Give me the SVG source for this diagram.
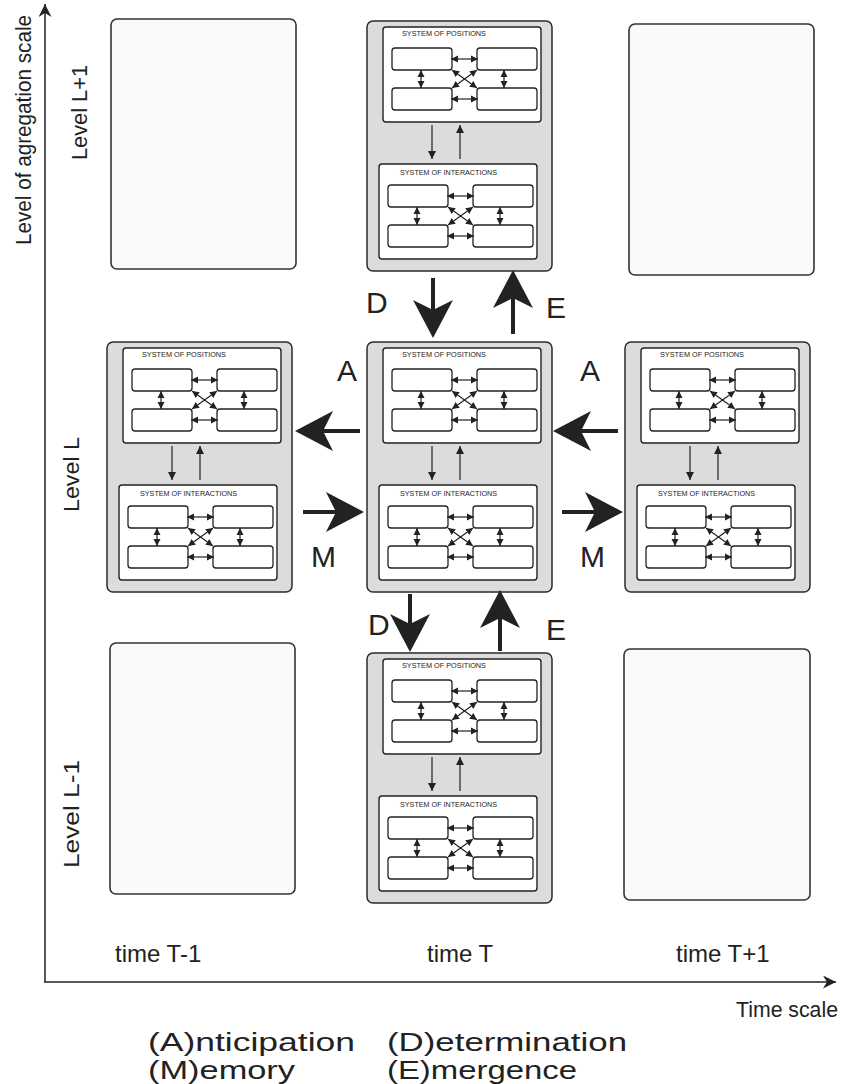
<svg xmlns="http://www.w3.org/2000/svg" xmlns:xlink="http://www.w3.org/1999/xlink" width="842" height="1084" viewBox="0 0 842 1084">
<style>
.outer{fill:#dcdcdc;stroke:#2a2a2a;stroke-width:1.5}
.empty{fill:#fafafa;stroke:#333;stroke-width:1.6}
.sub{fill:#fff;stroke:#222;stroke-width:1.4}
.cell{fill:#fff;stroke:#222;stroke-width:1.3}
.small{font-family:"Liberation Sans",Arial,sans-serif;font-size:7.4px;fill:#222}
.ln{stroke:#222;stroke-width:1.2;fill:none}
.big{stroke:#222;stroke-width:4;fill:none}
.bighead{fill:#222}
.lab{font-family:"Liberation Sans",Arial,sans-serif;font-size:30px;fill:#222}
.leg{font-family:"Liberation Sans",Arial,sans-serif;font-size:26px;fill:#222}
.lvl{font-family:"Liberation Sans",Arial,sans-serif;font-size:22px;fill:#222}
.tm{font-family:"Liberation Sans",Arial,sans-serif;font-size:24px;fill:#222}
.axis{stroke:#222;stroke-width:1.5;fill:none}
</style>
<defs>
<marker id="ah" viewBox="0 0 10 10" refX="10" refY="5" markerUnits="userSpaceOnUse" markerWidth="7" markerHeight="9" orient="auto-start-reverse"><path d="M0,0 L10,5 L0,10 Z" fill="#222"/></marker>
<marker id="ah2" viewBox="0 0 10 10" refX="10" refY="5" markerUnits="userSpaceOnUse" markerWidth="10" markerHeight="8" orient="auto"><path d="M0,0 L10,5 L0,10 Z" fill="#222"/></marker>
<marker id="axh" viewBox="0 0 10 10" refX="10" refY="5" markerUnits="userSpaceOnUse" markerWidth="13" markerHeight="13" orient="auto"><path d="M0,0 L10,5 L0,10 L3,5 Z" fill="#222"/></marker>
<path id="bh" d="M0,0 L-38,-20 L-28,0 L-38,20 Z"/>
<g id="net">
<rect class="cell" x="9" y="21" width="60" height="22" rx="3"/>
<rect class="cell" x="94" y="21" width="60" height="22" rx="3"/>
<rect class="cell" x="9" y="61" width="60" height="22" rx="3"/>
<rect class="cell" x="94" y="61" width="60" height="22" rx="3"/>
<line class="ln" x1="38" y1="43" x2="38" y2="61" marker-start="url(#ah)" marker-end="url(#ah)"/>
<line class="ln" x1="121" y1="43" x2="121" y2="61" marker-start="url(#ah)" marker-end="url(#ah)"/>
<line class="ln" x1="68" y1="32" x2="95" y2="32" marker-start="url(#ah)" marker-end="url(#ah)"/>
<line class="ln" x1="68" y1="72" x2="95" y2="72" marker-start="url(#ah)" marker-end="url(#ah)"/>
<line class="ln" x1="69" y1="43" x2="94" y2="61" marker-start="url(#ah)" marker-end="url(#ah)"/>
<line class="ln" x1="94" y1="43" x2="69" y2="61" marker-start="url(#ah)" marker-end="url(#ah)"/>
</g>
<g id="mod">
<rect class="outer" x="0" y="0" width="185" height="250" rx="6"/>
<rect class="sub" x="16" y="6" width="158" height="95" rx="3"/>
<use xlink:href="#net" href="#net" x="16" y="6"/>
<line class="ln" x1="65" y1="104" x2="65" y2="138" marker-end="url(#ah2)"/>
<line class="ln" x1="93" y1="138" x2="93" y2="104" marker-end="url(#ah2)"/>
<rect class="sub" x="12" y="143" width="158" height="95" rx="3"/>
<use xlink:href="#net" href="#net" x="12" y="143"/>
</g>
</defs>

<g id="axes">
<line class="axis" x1="45" y1="982" x2="45" y2="4" marker-end="url(#axh)"/>
<line class="axis" x1="44" y1="982" x2="836" y2="982" marker-end="url(#axh)"/>
<text class="lvl" transform="translate(31,245) rotate(-90)" textLength="230" lengthAdjust="spacingAndGlyphs">Level of agregation scale</text>
<text class="lvl" x="736" y="1017" font-size="21" textLength="102" lengthAdjust="spacingAndGlyphs">Time scale</text>
</g>

<g id="level-labels">
<text class="lvl" transform="translate(87,160) rotate(-90)" textLength="95" lengthAdjust="spacingAndGlyphs">Level L+1</text>
<text class="lvl" transform="translate(79,512) rotate(-90)" textLength="75" lengthAdjust="spacingAndGlyphs">Level L</text>
<text class="lvl" transform="translate(79,868) rotate(-90)" textLength="108" lengthAdjust="spacingAndGlyphs">Level L-1</text>
</g>

<g id="time-labels">
<text class="tm" x="115" y="962">time T-1</text>
<text class="tm" x="427" y="962">time T</text>
<text class="tm" x="676" y="962">time T+1</text>
</g>

<g id="empty-top-left"><rect class="empty" x="111" y="19" width="185" height="250" rx="6"/></g>
<g id="empty-top-right"><rect class="empty" x="629" y="24" width="185" height="251" rx="6"/></g>
<g id="empty-bottom-left"><rect class="empty" x="110" y="643" width="185" height="251" rx="6"/></g>
<g id="empty-bottom-right"><rect class="empty" x="624" y="649" width="186" height="251" rx="6"/></g>

<g id="node-top" transform="translate(367,21)">
<use xlink:href="#mod" href="#mod"/>
<text class="small" x="35" y="15" textLength="84" lengthAdjust="spacingAndGlyphs">SYSTEM OF POSITIONS</text>
<text class="small" x="33" y="154" textLength="97" lengthAdjust="spacingAndGlyphs">SYSTEM OF INTERACTIONS</text>
</g>
<g id="node-left" transform="translate(107,342)">
<use xlink:href="#mod" href="#mod"/>
<text class="small" x="35" y="15" textLength="84" lengthAdjust="spacingAndGlyphs">SYSTEM OF POSITIONS</text>
<text class="small" x="33" y="154" textLength="97" lengthAdjust="spacingAndGlyphs">SYSTEM OF INTERACTIONS</text>
</g>
<g id="node-center" transform="translate(367,342)">
<use xlink:href="#mod" href="#mod"/>
<text class="small" x="35" y="15" textLength="84" lengthAdjust="spacingAndGlyphs">SYSTEM OF POSITIONS</text>
<text class="small" x="33" y="154" textLength="97" lengthAdjust="spacingAndGlyphs">SYSTEM OF INTERACTIONS</text>
</g>
<g id="node-right" transform="translate(625,342)">
<use xlink:href="#mod" href="#mod"/>
<text class="small" x="35" y="15" textLength="84" lengthAdjust="spacingAndGlyphs">SYSTEM OF POSITIONS</text>
<text class="small" x="33" y="154" textLength="97" lengthAdjust="spacingAndGlyphs">SYSTEM OF INTERACTIONS</text>
</g>
<g id="node-bottom" transform="translate(367,653)">
<use xlink:href="#mod" href="#mod"/>
<text class="small" x="35" y="15" textLength="84" lengthAdjust="spacingAndGlyphs">SYSTEM OF POSITIONS</text>
<text class="small" x="33" y="154" textLength="97" lengthAdjust="spacingAndGlyphs">SYSTEM OF INTERACTIONS</text>
</g>

<g id="connectors">
<line class="big" x1="433" y1="278" x2="433" y2="312"/>
<use class="bighead" xlink:href="#bh" href="#bh" transform="translate(433,338) rotate(90)"/>
<line class="big" x1="513" y1="334" x2="513" y2="296"/>
<use class="bighead" xlink:href="#bh" href="#bh" transform="translate(513,270) rotate(-90)"/>
<line class="big" x1="360" y1="431" x2="321" y2="431"/>
<use class="bighead" xlink:href="#bh" href="#bh" transform="translate(295,431) rotate(180)"/>
<line class="big" x1="303" y1="512" x2="338" y2="512"/>
<use class="bighead" xlink:href="#bh" href="#bh" transform="translate(364,512)"/>
<line class="big" x1="618" y1="431" x2="579" y2="431"/>
<use class="bighead" xlink:href="#bh" href="#bh" transform="translate(553,431) rotate(180)"/>
<line class="big" x1="562" y1="512" x2="597" y2="512"/>
<use class="bighead" xlink:href="#bh" href="#bh" transform="translate(623,512)"/>
<line class="big" x1="410" y1="594" x2="410" y2="626"/>
<use class="bighead" xlink:href="#bh" href="#bh" transform="translate(410,652) rotate(90)"/>
<line class="big" x1="500" y1="651" x2="500" y2="616"/>
<use class="bighead" xlink:href="#bh" href="#bh" transform="translate(500,590) rotate(-90)"/>
</g>

<g id="arrow-labels">
<text class="lab" x="366" y="313">D</text>
<text class="lab" x="546" y="318">E</text>
<text class="lab" x="337" y="381">A</text>
<text class="lab" x="580" y="381">A</text>
<text class="lab" x="311" y="567">M</text>
<text class="lab" x="580" y="567">M</text>
<text class="lab" x="368" y="635">D</text>
<text class="lab" x="546" y="640">E</text>
</g>

<g id="legend">
<text class="leg" x="148" y="1051" textLength="207" lengthAdjust="spacingAndGlyphs">(A)nticipation</text>
<text class="leg" x="387" y="1051" textLength="240" lengthAdjust="spacingAndGlyphs">(D)etermination</text>
<text class="leg" x="148" y="1079" textLength="147" lengthAdjust="spacingAndGlyphs">(M)emory</text>
<text class="leg" x="387" y="1079" textLength="190" lengthAdjust="spacingAndGlyphs">(E)mergence</text>
</g>
</svg>
